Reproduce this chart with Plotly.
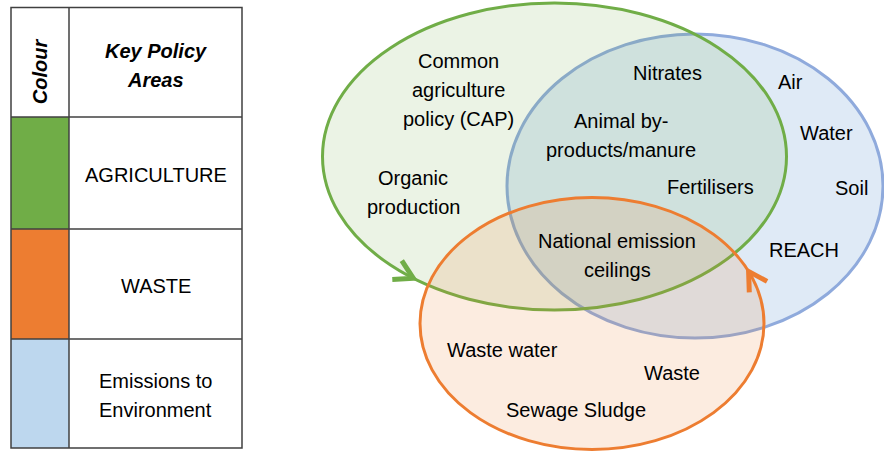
import math
import plotly.graph_objects as go

# ---------------- data ----------------
table_header = ["Colour", "Key Policy<br>Areas"]
policy_areas = ["AGRICULTURE", "WASTE", "Emissions to<br>Environment"]
policy_colours = ["#70AD47", "#ED7D31", "#BDD7EE"]

set_names = ["Agriculture", "Emissions", "Waste"]
set_line_colours = ["#70AD47", "#8FAADC", "#ED7D31"]
set_fill_colours = ["rgba(112,173,71,0.14)", "rgba(150,185,225,0.30)", "rgba(237,125,49,0.15)"]

venn_labels = [
    "Common<br>agriculture<br>policy (CAP)",
    "Organic<br>production",
    "Nitrates",
    "Animal by-<br>products/manure",
    "Fertilisers",
    "Air",
    "Water",
    "Soil",
    "REACH",
    "National emission<br>ceilings",
    "Waste water",
    "Waste",
    "Sewage Sludge",
]

# ---------------- layout geometry ----------------
W, H = 884, 452
FONT = "Liberation Sans, Arial, sans-serif"
TXT = 20
LINE_H = 29

# table
tab_x = [11, 69, 242]
tab_y = [7.5, 117, 229, 339, 448]

# ellipses: (cx, cy, rx, ry) in order of set_names
ellipses = [(554.5, 156.5, 232, 153.5), (695, 186, 188, 152), (592, 323.5, 172, 126)]
draw_order = [1, 0, 2]
# arrowheads: (ellipse index, angle in degrees)
arrows = [(0, 127.5), (2, -24.4)]

label_pos = [
    (458, 90), (413, 192), (667, 73), (621, 135), (710, 187), (790, 82),
    (826, 133), (851, 188), (804, 250), (617, 255), (502, 350), (672, 373), (576, 410),
]

fig = go.Figure()
fig.add_trace(go.Scatter(x=[0, W], y=[0, H], mode="markers", marker=dict(opacity=0),
                         hoverinfo="skip", showlegend=False))

shapes = []
annotations = []


def add_text(text, x, y, bold_italic=False, angle=0):
    lines = text.split("<br>")
    n = len(lines)
    for i, ln in enumerate(lines):
        t = "<b><i>" + ln + "</i></b>" if bold_italic else ln
        yy = y + (i - (n - 1) / 2) * LINE_H
        annotations.append(dict(x=x, y=yy, text=t, showarrow=False, xref="x", yref="y",
                                textangle=angle,
                                font=dict(family=FONT, size=TXT, color="#000")))


# ---- table ----
line_col = "#404040"
for i, col in enumerate(policy_colours):
    shapes.append(dict(type="rect", xref="x", yref="y", x0=tab_x[0], x1=tab_x[1],
                       y0=tab_y[i + 1], y1=tab_y[i + 2], fillcolor=col,
                       line=dict(width=0), layer="below"))
shapes.append(dict(type="rect", xref="x", yref="y", x0=tab_x[0], x1=tab_x[2],
                   y0=tab_y[0], y1=tab_y[-1], line=dict(color=line_col, width=1.5)))
shapes.append(dict(type="line", xref="x", yref="y", x0=tab_x[1], x1=tab_x[1],
                   y0=tab_y[0], y1=tab_y[-1], line=dict(color=line_col, width=1.5)))
for yy in tab_y[1:-1]:
    shapes.append(dict(type="line", xref="x", yref="y", x0=tab_x[0], x1=tab_x[2],
                       y0=yy, y1=yy, line=dict(color=line_col, width=1.5)))

add_text(table_header[0], (tab_x[0] + tab_x[1]) / 2, (tab_y[0] + tab_y[1]) / 2 + 9,
         bold_italic=True, angle=-90)
add_text(table_header[1], (tab_x[1] + tab_x[2]) / 2, (tab_y[0] + tab_y[1]) / 2 + 3,
         bold_italic=True)
for i, name in enumerate(policy_areas):
    add_text(name, (tab_x[1] + tab_x[2]) / 2, (tab_y[i + 1] + tab_y[i + 2]) / 2 + 2)

# ---- venn ellipses ----
for k in draw_order:
    cx, cy, rx, ry = ellipses[k]
    shapes.append(dict(type="circle", xref="x", yref="y", x0=cx - rx, x1=cx + rx,
                       y0=cy - ry, y1=cy + ry, fillcolor=set_fill_colours[k],
                       line=dict(color=set_line_colours[k], width=3)))

# ---- arrowheads ----
for k, ang in arrows:
    cx, cy, rx, ry = ellipses[k]
    t = math.radians(ang)
    px, py = cx + rx * math.cos(t), cy + ry * math.sin(t)
    dx, dy = rx * math.sin(t), -ry * math.cos(t)
    n = math.hypot(dx, dy)
    bx, by = -dx / n, -dy / n
    pts = []
    for s in (30, -30):
        a = math.radians(s)
        ax = bx * math.cos(a) - by * math.sin(a)
        ay = bx * math.sin(a) + by * math.cos(a)
        pts.append((px + 21 * ax, py + 21 * ay))
    path = f"M {pts[0][0]:.1f} {pts[0][1]:.1f} L {px:.1f} {py:.1f} L {pts[1][0]:.1f} {pts[1][1]:.1f}"
    shapes.append(dict(type="path", xref="x", yref="y", path=path,
                       line=dict(color=set_line_colours[k], width=5)))

# ---- venn labels ----
for lab, (lx, ly) in zip(venn_labels, label_pos):
    add_text(lab, lx, ly)

fig.update_layout(
    width=W, height=H, margin=dict(l=0, r=0, t=0, b=0),
    paper_bgcolor="white", plot_bgcolor="white",
    xaxis=dict(range=[0, W], visible=False, fixedrange=True),
    yaxis=dict(range=[H, 0], visible=False, fixedrange=True),
    shapes=shapes, annotations=annotations, showlegend=False,
)
fig.write_html("out.html", config={"displayModeBar": False, "staticPlot": True},
               post_script="document.body.style.margin='0';")
